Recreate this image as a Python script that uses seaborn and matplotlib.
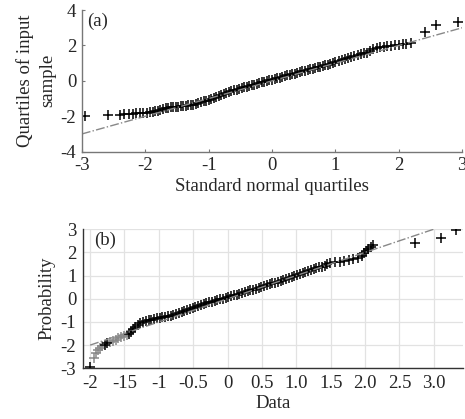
import numpy as np
import pandas as pd
import matplotlib
matplotlib.use("Agg")
import matplotlib.pyplot as plt
import seaborn as sns

# panel (a): theoretical quantiles vs sample quantiles
qa_x = [-2.95, -2.58, -2.40, -2.33, -2.26, -2.20, -2.14, -2.08, -2.03, -1.98,
        -1.93, -1.88, -1.84, -1.80, -1.76, -1.72, -1.68, -1.64, -1.60, -1.56,
        -1.52, -1.48, -1.44, -1.40, -1.36, -1.32, -1.28, -1.24, -1.20, -1.16,
        -1.12, -1.08, -1.04, -1.00, -0.96, -0.92, -0.88, -0.84, -0.80, -0.76,
        -0.72, -0.68, -0.64, -0.60, -0.56, -0.52, -0.48, -0.44, -0.40, -0.36,
        -0.32, -0.28, -0.24, -0.20, -0.16, -0.12, -0.08, -0.04, 0.00, 0.04,
        0.08, 0.12, 0.16, 0.20, 0.24, 0.28, 0.32, 0.36, 0.40, 0.44,
        0.48, 0.52, 0.56, 0.60, 0.64, 0.68, 0.72, 0.76, 0.80, 0.84,
        0.88, 0.92, 0.96, 1.00, 1.05, 1.10, 1.15, 1.20, 1.25, 1.30,
        1.35, 1.40, 1.45, 1.50, 1.55, 1.60, 1.65, 1.70, 1.76, 1.82,
        1.88, 1.94, 2.00, 2.06, 2.12, 2.20, 2.41, 2.59, 2.94]
qa_y = [-1.99, -1.93, -1.90, -1.89, -1.88, -1.86, -1.84, -1.83, -1.81, -1.79,
        -1.77, -1.74, -1.71, -1.68, -1.64, -1.60, -1.55, -1.52, -1.50, -1.48,
        -1.46, -1.45, -1.43, -1.42, -1.41, -1.39, -1.37, -1.34, -1.31, -1.26,
        -1.21, -1.16, -1.12, -1.08, -1.03, -0.97, -0.90, -0.84, -0.78, -0.73,
        -0.68, -0.63, -0.58, -0.54, -0.50, -0.45, -0.41, -0.37, -0.33, -0.29,
        -0.25, -0.21, -0.17, -0.13, -0.09, -0.05, -0.01, 0.03, 0.07, 0.11,
        0.15, 0.19, 0.23, 0.27, 0.31, 0.34, 0.38, 0.41, 0.45, 0.49,
        0.53, 0.57, 0.61, 0.65, 0.69, 0.72, 0.76, 0.80, 0.84, 0.88,
        0.92, 0.96, 1.00, 1.05, 1.10, 1.16, 1.22, 1.28, 1.33, 1.39,
        1.45, 1.50, 1.56, 1.60, 1.66, 1.78, 1.86, 1.90, 1.93, 1.96,
        1.99, 2.02, 2.05, 2.07, 2.09, 2.12, 2.78, 3.15, 3.34]
ref_a = [-3, 3]

# panel (b): data vs probability
pb_x = [-2.00, -1.95, -1.92, -1.89, -1.86, -1.83, -1.79, -1.75, -1.71, -1.67,
        -1.63, -1.59, -1.55, -1.51, -1.47, -1.44, -1.41, -1.38, -1.35, -1.31,
        -1.27, -1.23, -1.19, -1.15, -1.11, -1.07, -1.03, -0.99, -0.95, -0.91,
        -0.87, -0.83, -0.79, -0.75, -0.71, -0.67, -0.63, -0.59, -0.55, -0.51,
        -0.47, -0.43, -0.39, -0.35, -0.31, -0.27, -0.23, -0.19, -0.15, -0.11,
        -0.07, -0.03, 0.01, 0.05, 0.09, 0.13, 0.17, 0.21, 0.25, 0.29,
        0.33, 0.37, 0.41, 0.45, 0.49, 0.53, 0.57, 0.61, 0.65, 0.69,
        0.73, 0.77, 0.81, 0.85, 0.89, 0.93, 0.97, 1.01, 1.05, 1.09,
        1.13, 1.17, 1.21, 1.25, 1.29, 1.33, 1.37, 1.41, 1.45, 1.49,
        1.56, 1.63, 1.70, 1.76, 1.83, 1.90, 1.95, 1.98, 2.01, 2.04,
        2.08, 2.12, 2.73, 3.10, 3.33]
pb_y = [-2.93, -2.55, -2.35, -2.22, -2.12, -2.04, -1.98, -1.93, -1.88, -1.84,
        -1.76, -1.70, -1.65, -1.60, -1.55, -1.50, -1.42, -1.32, -1.24, -1.14,
        -1.06, -1.01, -0.97, -0.93, -0.90, -0.87, -0.84, -0.82, -0.80, -0.78,
        -0.76, -0.74, -0.71, -0.67, -0.63, -0.58, -0.54, -0.49, -0.44, -0.39,
        -0.35, -0.31, -0.27, -0.23, -0.19, -0.15, -0.12, -0.08, -0.05, -0.02,
        0.01, 0.05, 0.08, 0.11, 0.15, 0.18, 0.21, 0.25, 0.29, 0.32,
        0.36, 0.39, 0.43, 0.46, 0.50, 0.54, 0.58, 0.62, 0.66, 0.70,
        0.74, 0.78, 0.82, 0.86, 0.90, 0.94, 0.98, 1.02, 1.06, 1.10,
        1.14, 1.18, 1.22, 1.27, 1.31, 1.35, 1.39, 1.43, 1.48, 1.53,
        1.57, 1.60, 1.64, 1.68, 1.72, 1.76, 1.85, 1.96, 2.05, 2.14,
        2.22, 2.32, 2.39, 2.61, 2.97]
# lighter markers in the lower tail
pb_gray = [0, 1, 1, 1, 1, 1, 0, 0, 1, 1, 1, 1, 1, 1, 1] + [0] * 90
ref_b = [-2, 3]

xt_b = [-2, -1.5, -1, -0.5, 0, 0.5, 1.0, 1.5, 2.0, 2.5, 3.0]
xt_b_labels = ["-2", "-15", "-1", "-0.5", "0", "0.5", "1.0", "1.5", "2.0", "2.5", "3.0"]

sns.set_theme(style="white")
plt.rcParams["font.family"] = ["Liberation Serif", "DejaVu Serif"]
plt.rcParams["axes.unicode_minus"] = False
fs = 13.5

fig = plt.figure(figsize=(4.65, 4.19), dpi=100)
ax1 = fig.add_axes([0.176, 0.638, 0.818, 0.338])
ax2 = fig.add_axes([0.179, 0.121, 0.816, 0.332])

# ---- (a)
df_a = pd.DataFrame({"x": qa_x, "y": qa_y})
ax1.plot(ref_a, ref_a, linestyle="-.", color="#888888", linewidth=1)
sns.scatterplot(data=df_a, x="x", y="y", marker="+", color="black", s=60,
                linewidth=1.1, ax=ax1)
ax1.set_xlim(-3, 3)
ax1.set_ylim(-4, 4)
ax1.set_xticks([-3, -2, -1, 0, 1, 2, 3])
ax1.set_yticks([-4, -2, 0, 2, 4])
ax1.set_xlabel("Standard normal quartiles", fontsize=fs, labelpad=3)
ax1.set_ylabel("Quartiles of input\nsample", fontsize=fs, labelpad=3,
               linespacing=1.45)
ax1.tick_params(direction="in", length=2, width=0.8, color="#777777",
                labelsize=fs, pad=4, bottom=True, left=True)
for side in ["top", "right"]:
    ax1.spines[side].set_visible(False)
for side in ["left", "bottom"]:
    ax1.spines[side].set_color("#777777")
    ax1.spines[side].set_linewidth(1)
ax1.text(0.015, 0.98, "(a)", transform=ax1.transAxes, fontsize=fs,
         va="top", ha="left")

# ---- (b)
df_b = pd.DataFrame({"x": pb_x, "y": pb_y, "g": pb_gray})
ax2.plot(ref_b, ref_b, linestyle="-.", color="#888888", linewidth=1)
sns.scatterplot(data=df_b[df_b["g"] == 1], x="x", y="y", marker="+",
                color="#888888", s=60, linewidth=1.1, ax=ax2)
sns.scatterplot(data=df_b[df_b["g"] == 0], x="x", y="y", marker="+",
                color="black", s=60, linewidth=1.1, ax=ax2)
ax2.set_xlim(-2.1, 3.42)
ax2.set_ylim(-3, 3)
ax2.set_xticks(xt_b)
ax2.set_xticklabels(xt_b_labels)
ax2.set_yticks([-3, -2, -1, 0, 1, 2, 3])
ax2.grid(True, color="#e2e2e2", linewidth=0.9)
ax2.set_xlabel("Data", fontsize=fs, labelpad=2)
ax2.set_ylabel("Probability", fontsize=fs, labelpad=4)
ax2.tick_params(length=0, labelsize=fs, pad=5)
for side in ["top", "right"]:
    ax2.spines[side].set_visible(False)
for side in ["left", "bottom"]:
    ax2.spines[side].set_color("#333333")
    ax2.spines[side].set_linewidth(1)
ax2.text(0.03, 0.98, "(b)", transform=ax2.transAxes, fontsize=fs,
         va="top", ha="left")

fig.savefig("out.png", dpi=100)
